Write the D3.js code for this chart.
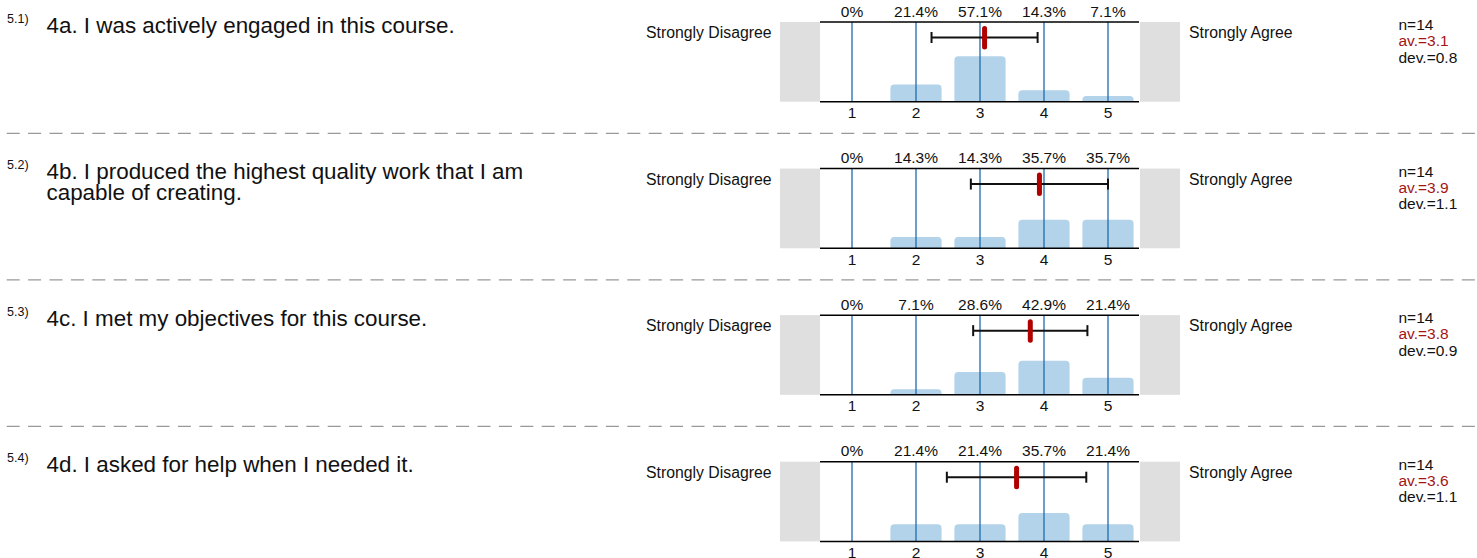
<!DOCTYPE html>
<html>
<head>
<meta charset="utf-8">
<script src="https://cdn.jsdelivr.net/npm/d3@7"></script>
<style>
  body { margin: 0; background: #fff; }
  svg text { font-family: "Liberation Sans", Arial, sans-serif; fill: #111; }
</style>
</head>
<body>
<script>
// survey items
var itemIds = ["5.1)", "5.2)", "5.3)", "5.4)"];
var itemTexts = [
  "4a. I was actively engaged in this course.",
  "4b. I produced the highest quality work that I am capable of creating.",
  "4c. I met my objectives for this course.",
  "4d. I asked for help when I needed it."
];
var scalePoints = [1, 2, 3, 4, 5];
var leftPole = "Strongly Disagree";
var rightPole = "Strongly Agree";
// answers per scale point (n=14)
var counts1 = [0, 3, 8, 2, 1];
var counts2 = [0, 2, 2, 5, 5];
var counts3 = [0, 1, 4, 6, 3];
var counts4 = [0, 3, 3, 5, 3];
var allCounts = [counts1, counts2, counts3, counts4];

var width = 1477, height = 558;
var rowStep = 146.57;
var plot = { left: 820, right: 1140, top: 22, bottom: 101.7 };

var svg = d3.select("body").append("svg")
  .attr("width", width)
  .attr("height", height);

var x = d3.scaleLinear().domain([0.5, 5.5]).range([plot.left, plot.right]);
var band = d3.scaleBand().domain(scalePoints).range([plot.left, plot.right])
  .paddingInner(0.2).paddingOuter(0.1);
var y = d3.scaleLinear().domain([0, 100]).range([plot.bottom, plot.top]);

var pctFormat = function(v) { return v === 0 ? "0%" : v.toFixed(1) + "%"; };

function barPath(x0, w, yTop, yBot, r) {
  var h = yBot - yTop;
  r = Math.min(r, h, w / 2);
  return "M" + x0 + "," + yBot +
    "V" + (yTop + r) +
    "Q" + x0 + "," + yTop + " " + (x0 + r) + "," + yTop +
    "H" + (x0 + w - r) +
    "Q" + (x0 + w) + "," + yTop + " " + (x0 + w) + "," + (yTop + r) +
    "V" + yBot + "Z";
}

function wrap(textSel, maxWidth, lineHeight) {
  textSel.each(function() {
    var text = d3.select(this);
    var words = text.text().split(/\s+/);
    var xPos = text.attr("x");
    text.text(null);
    var line = [];
    var tspan = text.append("tspan").attr("x", xPos).attr("dy", 0);
    var lineNo = 0;
    words.forEach(function(w) {
      line.push(w);
      tspan.text(line.join(" "));
      if (tspan.node().getComputedTextLength() > maxWidth && line.length > 1) {
        line.pop();
        tspan.text(line.join(" "));
        line = [w];
        lineNo++;
        tspan = text.append("tspan").attr("x", xPos).attr("dy", lineHeight).text(w);
      }
    });
  });
}

allCounts.forEach(function(counts, i) {
  var n = d3.sum(counts);
  var answers = [];
  counts.forEach(function(c, k) { for (var j = 0; j < c; j++) answers.push(scalePoints[k]); });
  var mean = d3.mean(answers);
  var dev = d3.deviation(answers);
  var pct = counts.map(function(c) { return c / n * 100; });

  var g = svg.append("g").attr("transform", "translate(0," + (i * rowStep) + ")");

  // question
  g.append("text")
    .attr("x", 7).attr("y", 22.7)
    .style("font-size", "12.5px")
    .text(itemIds[i]);
  g.append("text")
    .attr("x", 46.5).attr("y", 32.7)
    .style("font-size", "22.4px")
    .text(itemTexts[i])
    .call(wrap, 500, 20.7);

  // poles
  g.append("rect")
    .attr("x", plot.left - 40).attr("y", plot.top)
    .attr("width", 40).attr("height", plot.bottom - plot.top)
    .style("fill", "#dfdfdf");
  g.append("rect")
    .attr("x", plot.right).attr("y", plot.top)
    .attr("width", 40).attr("height", plot.bottom - plot.top)
    .style("fill", "#dfdfdf");
  g.append("text")
    .attr("x", 646).attr("y", 38.3)
    .style("font-size", "15.8px")
    .text(leftPole);
  g.append("text")
    .attr("x", 1189).attr("y", 38.3)
    .style("font-size", "15.8px")
    .text(rightPole);

  // bars
  g.selectAll(".bar")
    .data(pct)
    .enter().append("path")
    .attr("class", "bar")
    .attr("d", function(d, k) {
      return barPath(band(scalePoints[k]), band.bandwidth(), y(d), y(0), 4);
    })
    .style("fill", "#b3d3ea");

  // grid
  g.selectAll(".grid")
    .data(scalePoints)
    .enter().append("line")
    .attr("class", "grid")
    .attr("x1", function(d) { return x(d); })
    .attr("x2", function(d) { return x(d); })
    .attr("y1", plot.top).attr("y2", plot.bottom)
    .style("stroke", "#1f6ab0")
    .style("stroke-width", 1.3);

  // frame lines
  [plot.top, plot.bottom].forEach(function(yy) {
    g.append("line")
      .attr("x1", plot.left).attr("x2", plot.right - 1)
      .attr("y1", yy).attr("y2", yy)
      .style("stroke", "#000")
      .style("stroke-width", 1.5);
  });

  // percent labels
  g.selectAll(".pct")
    .data(pct)
    .enter().append("text")
    .attr("class", "pct")
    .attr("x", function(d, k) { return x(scalePoints[k]); })
    .attr("y", 16.7)
    .attr("text-anchor", "middle")
    .style("font-size", "15.5px")
    .text(pctFormat);

  // tick labels
  g.selectAll(".tick")
    .data(scalePoints)
    .enter().append("text")
    .attr("class", "tick")
    .attr("x", function(d) { return x(d); })
    .attr("y", 118.3)
    .attr("text-anchor", "middle")
    .style("font-size", "15.5px")
    .text(function(d) { return d; });

  // deviation bar
  var ey = plot.top + 15.5;
  g.append("line")
    .attr("x1", x(mean - dev)).attr("x2", x(mean + dev))
    .attr("y1", ey).attr("y2", ey)
    .style("stroke", "#111").style("stroke-width", 2);
  [mean - dev, mean + dev].forEach(function(v) {
    g.append("line")
      .attr("x1", x(v)).attr("x2", x(v))
      .attr("y1", ey - 5.5).attr("y2", ey + 5.5)
      .style("stroke", "#111").style("stroke-width", 2);
  });
  // mean marker
  g.append("line")
    .attr("x1", x(mean)).attr("x2", x(mean))
    .attr("y1", plot.top + 6.5).attr("y2", plot.top + 25)
    .style("stroke", "#b00000")
    .style("stroke-width", 5)
    .style("stroke-linecap", "round");

  // stats
  var stats = [
    { t: "n=" + n, c: "#111" },
    { t: "av.=" + mean.toFixed(1), c: "#a31515" },
    { t: "dev.=" + dev.toFixed(1), c: "#111" }
  ];
  g.selectAll(".stat")
    .data(stats)
    .enter().append("text")
    .attr("class", "stat")
    .attr("x", 1398.5)
    .attr("y", function(d, k) { return 30 + k * 16.3; })
    .style("font-size", "15.5px")
    .style("fill", function(d) { return d.c; })
    .text(function(d) { return d.t; });

  // separator
  if (i < allCounts.length - 1) {
    g.append("line")
      .attr("x1", 0).attr("x2", width)
      .attr("y1", 133.3).attr("y2", 133.3)
      .style("stroke", "#999")
      .style("stroke-width", 1.3)
      .style("stroke-dasharray", "13,8.4")
      .style("stroke-dashoffset", 14.7);
  }
});
</script>
</body>
</html>
